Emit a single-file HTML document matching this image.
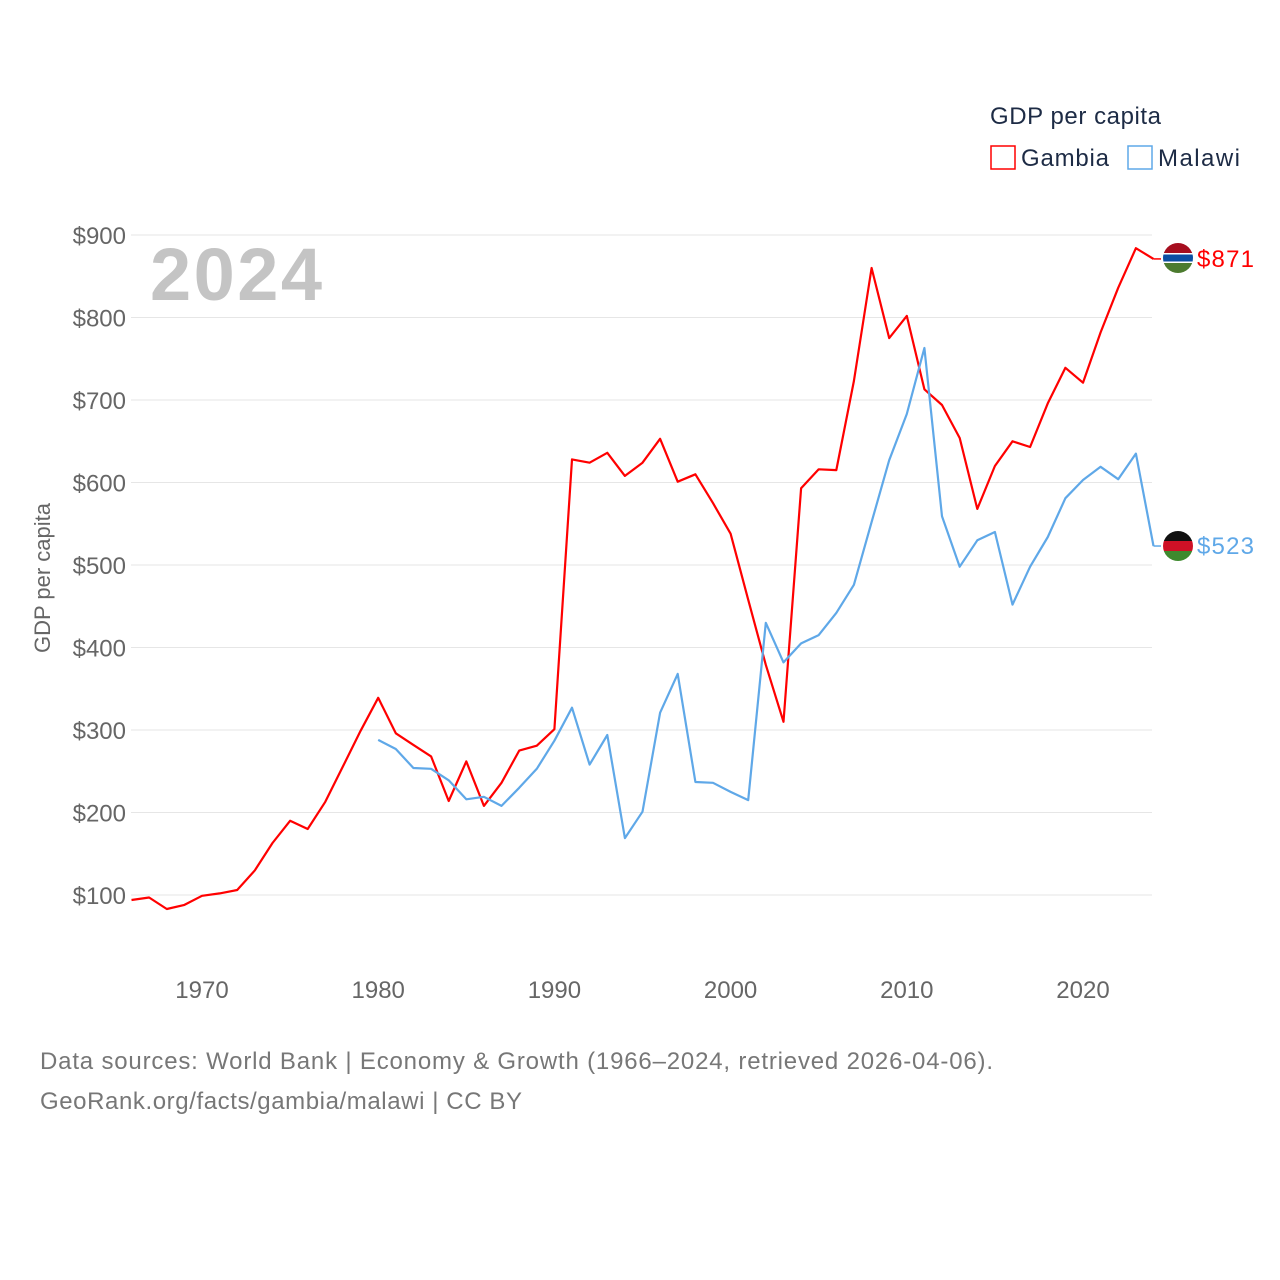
<!DOCTYPE html>
<html><head><meta charset="utf-8"><style>
body{margin:0;background:#fff;font-family:"Liberation Sans",sans-serif;}
#wrap{position:relative;width:1280px;height:1280px;}
</style></head><body>
<div id="wrap">
<svg id="chart" width="1280" height="1280" style="position:absolute;left:0;top:0"></svg>
<div style="position:absolute;left:1163px;top:243px;width:30px;height:30px;border-radius:50%;overflow:hidden;background:linear-gradient(#a60e1f 0 33%,#fff 33% 38%,#0c4ea3 38% 62%,#fff 62% 67%,#4c7b2f 67%)"></div>
<div style="position:absolute;left:1163px;top:531px;width:30px;height:30px;border-radius:50%;overflow:hidden;background:linear-gradient(#111 0 33%,#ce1126 33% 67%,#3e8a2e 67%)"></div>
</div>
<script>
const years=[];for(let y=1966;y<=2024;y++)years.push(y);
const gambia=[94,97,83,88,99,102,106,130,163,190,180,213,256,299,339,296,282,268,214,262,208,236,275,281,301,628,624,636,608,624,653,601,610,575,538,458,379,310,593,616,615,723,860,775,802,713,694,654,568,620,650,643,696,739,721,782,836,884,871];
const malawiYears=[];for(let y=1980;y<=2024;y++)malawiYears.push(y);
const malawi=[288,277,254,253,239,216,219,208,230,253,287,327,258,294,169,201,321,368,237,236,225,215,430,382,405,415,442,476,552,627,683,763,559,498,530,540,452,498,534,581,603,619,604,635,523];
const yTicks=[100,200,300,400,500,600,700,800,900];
const xTicks=[1970,1980,1990,2000,2010,2020];
const NS="http://www.w3.org/2000/svg";
const svg=document.getElementById('chart');
const x=v=>202+(v-1970)*881/50;
const y=v=>895-(v-100)*0.825;
function el(t,a,txt){const e=document.createElementNS(NS,t);for(const k in a)e.setAttribute(k,a[k]);if(txt!=null)e.textContent=txt;svg.appendChild(e);return e;}
yTicks.forEach(t=>{
 const g=el('line',{x1:131,x2:1152,y1:y(t),y2:y(t),stroke:'#e6e6e6','stroke-width':1});
 
 
 const l=el('text',{x:126,y:y(t)+9,'text-anchor':'end','font-size':24,fill:'#666'},'$'+t);
 
 
});
xTicks.forEach(t=>{
 const l=el('text',{x:x(t),y:998,'text-anchor':'middle','font-size':24,fill:'#666'},String(t));
 
 
});
const yt=el('text',{x:0,y:0,transform:'translate(50,578) rotate(-90)','text-anchor':'middle','font-size':22,fill:'#666'},'GDP per capita');


const yr=el('text',{x:150,y:300,'font-size':74,'font-weight':'bold',fill:'#c4c4c4',textLength:172},'2024');


function line(xs,vs,c,name){
 const d=vs.map((v,i)=>(i?'L':'M')+x(xs[i]).toFixed(1)+','+y(v).toFixed(1)).join('');
 const p=el('path',{d:d,fill:'none',stroke:c,'stroke-width':2.2,'stroke-linejoin':'round'});
 
 
}
line(years,gambia,'#ff0000','line-gambia');
line(malawiYears,malawi,'#5fa8e8','line-malawi');
const gv=gambia[gambia.length-1],mv=malawi[malawi.length-1];
const c1=el('line',{x1:x(2024),x2:1161,y1:y(gv),y2:y(gv),stroke:'#ff0000','stroke-width':1.5});


const c2=el('line',{x1:x(2024),x2:1161,y1:y(mv),y2:y(mv),stroke:'#5fa8e8','stroke-width':1.5});


const e1=el('text',{x:1197,y:y(gv)+8,'font-size':24,fill:'#ff0000',textLength:57},'$'+gv);


const e2=el('text',{x:1197,y:y(mv)+8,'font-size':24,fill:'#5fa8e8',textLength:57},'$'+mv);


const lt=el('text',{x:990,y:124,'font-size':24,fill:'#1d2b45',textLength:171},'GDP per capita');


const r1=el('rect',{x:991,y:146,width:24,height:23,fill:'none',stroke:'#ff0000','stroke-width':1.5});


const t1=el('text',{x:1021,y:166,'font-size':24,fill:'#1d2b45',textLength:88},'Gambia');


const r2=el('rect',{x:1128,y:146,width:24,height:23,fill:'none',stroke:'#5fa8e8','stroke-width':1.5});


const t2=el('text',{x:1158,y:166,'font-size':24,fill:'#1d2b45',textLength:82},'Malawi');


const s1=el('text',{x:40,y:1069,'font-size':24,fill:'#777',textLength:953},'Data sources: World Bank | Economy & Growth (1966–2024, retrieved 2026-04-06).');


const s2=el('text',{x:40,y:1109,'font-size':24,fill:'#777',textLength:482},'GeoRank.org/facts/gambia/malawi | CC BY');


</script>
</body></html>
